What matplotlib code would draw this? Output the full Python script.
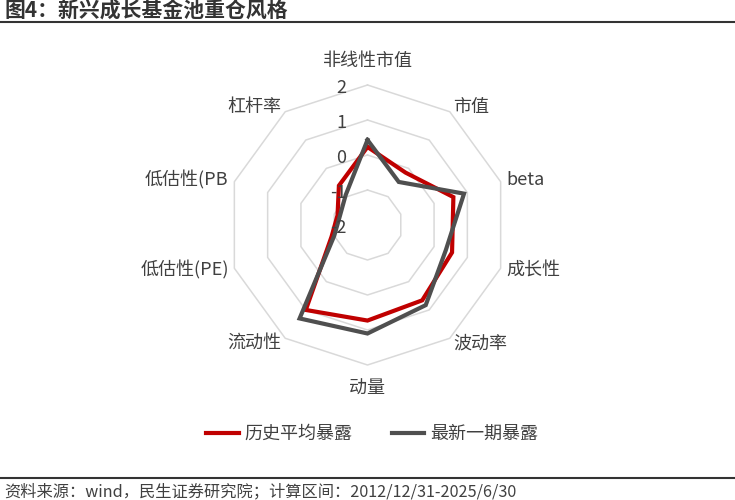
import numpy as np
import matplotlib
matplotlib.use('Agg')
import matplotlib.pyplot as plt
from matplotlib.lines import Line2D

plt.rcParams['font.family'] = ['Noto Sans CJK SC', 'DejaVu Sans']
plt.rcParams['axes.unicode_minus'] = False

# 数据
categories = ['非线性市值', '市值', 'beta', '成长性', '波动率', '动量', '流动性',
              '低估性(PE)', '低估性(PB', '杠杆率']
hist_avg = [0.23, -0.15, 0.58, 0.54, 0.66, 0.73, 1.0, -0.92, -1.1, -0.61]
latest = [0.43, -0.48, 0.9, 0.35, 0.83, 1.1, 1.3, -1.0, -1.17, -0.94]
ring_levels = [-2, -1, 0, 1, 2]
series_names = ['历史平均暴露', '最新一期暴露']

txt_color = '#404040'
red = '#C00000'
gray = '#4F4F4F'

fig = plt.figure(figsize=(7.35, 5.0), dpi=100)

# 雷达图：中心 (367.5, 225) px，外圈半径 140 px
cx, cy, R = 367.5, 225, 140
ax = fig.add_axes([(cx - R) / 735, (500 - cy - R) / 500, 2 * R / 735, 2 * R / 500],
                  projection='polar')
ax.set_theta_zero_location('N')
ax.set_theta_direction(-1)
ax.set_ylim(ring_levels[0], ring_levels[-1])
ax.set_xticks([])
ax.set_yticks([])
ax.grid(False)
ax.spines['polar'].set_visible(False)
ax.patch.set_visible(False)

n = len(categories)
angles = np.linspace(0, 2 * np.pi, n, endpoint=False)
closed = np.append(angles, angles[0])

for v in ring_levels[1:]:
    ax.plot(closed, [v] * (n + 1), color='#D9D9D9', lw=1.1, clip_on=False, zorder=1)

ax.plot(closed, hist_avg + hist_avg[:1], color=red, lw=3, clip_on=False, zorder=3,
        solid_joinstyle='miter', label=series_names[0])
ax.plot(closed, latest + latest[:1], color=gray, lw=3, clip_on=False, zorder=4,
        solid_joinstyle='miter', label=series_names[1])

# 径向刻度标签
for v in ring_levels:
    ax.annotate(str(v), xy=(0, v), xytext=(-21, -3), textcoords='offset pixels',
                ha='right', va='center', fontsize=13, color=txt_color, zorder=5)

# 分类标签
px_per_unit = R / (ring_levels[-1] - ring_levels[0])
for ang, lab in zip(angles, categories):
    s = np.sin(ang)
    if abs(s) < 0.1:
        r = ring_levels[0] + 164 / px_per_unit
        ha = 'center'
    else:
        r = ring_levels[0] + 146 / px_per_unit
        ha = 'left' if s > 0 else 'right'
    ax.text(ang, r, lab, ha=ha, va='center', fontsize=13, color=txt_color)

# 标题和分隔线
fig.text(4 / 735, 1 - 10 / 500, '图4：新兴成长基金池重仓风格', ha='left', va='center',
         fontsize=15, fontweight='bold', color='#333333')
fig.add_artist(Line2D([0, 1], [1 - 22 / 500] * 2, transform=fig.transFigure,
                      color='#333333', lw=1.5))
fig.add_artist(Line2D([0, 1], [1 - 478 / 500] * 2, transform=fig.transFigure,
                      color='#333333', lw=1.5))
fig.text(4 / 735, 1 - 492 / 500, '资料来源：wind，民生证券研究院；计算区间：2012/12/31-2025/6/30',
         ha='left', va='center', fontsize=11.7, color=txt_color)

leg = fig.legend(loc='center', bbox_to_anchor=(372 / 735, 1 - 434 / 500), ncol=2,
                 frameon=False, handlelength=1.8, handletextpad=0.3, columnspacing=2.2,
                 fontsize=13)
for t in leg.get_texts():
    t.set_color(txt_color)

fig.savefig('out.png', dpi=100)
